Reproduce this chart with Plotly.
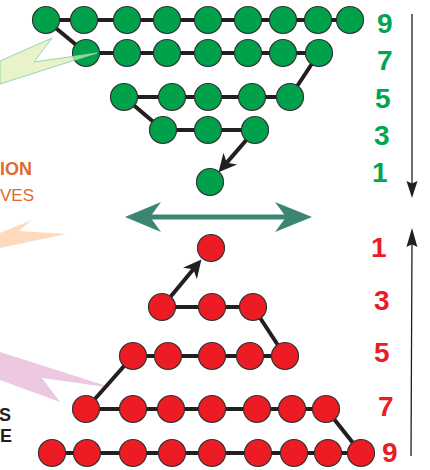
import math
import plotly.graph_objects as go

# ---- data ----
green_rows_x = [
    [46, 84, 127, 167, 208, 248, 283, 318, 350],
    [86, 127, 167, 208, 248, 283, 319],
    [124, 172, 208, 252, 290],
    [163, 208, 255],
    [210],
]
green_rows_y = [20, 53, 97, 130, 182]
red_rows_x = [
    [211],
    [162, 212, 253],
    [133, 168, 212, 250, 285],
    [86, 133, 171, 212, 257, 292, 326],
    [52, 87, 133, 172, 212, 258, 294, 328, 361],
]
red_rows_y = [248, 307, 356, 409, 453]
green_labels = ["9", "7", "5", "3", "1"]
green_label_x = [385, 385, 383, 382, 380]
green_label_y = [23, 60, 98, 135, 172]
red_labels = ["1", "3", "5", "7", "9"]
red_label_x = [379, 382, 382, 386, 390]
red_label_y = [247, 300, 352, 406, 452]

GREEN = "#00a14b"
RED = "#ed1c24"
GREEN_TXT = "#00a651"
TEAL = "#3d8573"
INK = "#231f20"

fig = go.Figure()
shapes = []

def head_path(tip, frm, length, half, notch=0.25):
    dx, dy = tip[0] - frm[0], tip[1] - frm[1]
    d = math.hypot(dx, dy)
    ux, uy = dx / d, dy / d
    px, py = -uy, ux
    bx, by = tip[0] - ux * length, tip[1] - uy * length
    nx, ny = tip[0] - ux * length * (1 - notch), tip[1] - uy * length * (1 - notch)
    pts = [tip, (bx + px * half, by + py * half), (nx, ny), (bx - px * half, by - py * half)]
    return "M " + " L ".join(f"{x:.2f},{y:.2f}" for x, y in pts) + " Z"

# background swooshes
shapes.append(dict(type="path", xref="x", yref="y",
    path="M 0,61 L 52,38 L 34,62 L 97,53 L 0,84 Z",
    fillcolor="rgba(222,238,180,0.7)", line=dict(color="rgba(140,210,170,0.9)", width=1), layer="above"))
shapes.append(dict(type="path", xref="x", yref="y",
    path="M 0,233 L 32,220 L 19,231 L 66,234 L 0,248 Z",
    fillcolor="rgba(252,208,172,0.8)", line=dict(width=0), layer="below"))
shapes.append(dict(type="path", xref="x", yref="y",
    path="M 0,352 L 113,388 L 42,378 L 60,402 L 0,380 Z",
    fillcolor="rgba(225,165,205,0.6)", line=dict(width=0), layer="below"))

# connector lines
lx, ly = [], []
def seg(a, b):
    lx.extend([a[0], b[0], None]); ly.extend([a[1], b[1], None])
for rows_x, rows_y in [(green_rows_x, green_rows_y), (red_rows_x, red_rows_y)]:
    for xs, y in zip(rows_x, rows_y):
        if len(xs) > 1:
            seg((xs[0], y), (xs[-1], y))
# green diagonals
seg((green_rows_x[0][0], green_rows_y[0]), (green_rows_x[1][0], green_rows_y[1]))
seg((green_rows_x[1][-1], green_rows_y[1]), (green_rows_x[2][-1], green_rows_y[2]))
seg((green_rows_x[2][0], green_rows_y[2]), (green_rows_x[3][0], green_rows_y[3]))
# red diagonals
seg((red_rows_x[1][-1], red_rows_y[1]), (red_rows_x[2][-1], red_rows_y[2]))
seg((red_rows_x[2][0], red_rows_y[2]), (red_rows_x[3][0], red_rows_y[3]))
seg((red_rows_x[3][-1], red_rows_y[3]), (red_rows_x[4][-1], red_rows_y[4]))
fig.add_trace(go.Scatter(x=lx, y=ly, mode="lines", line=dict(color=INK, width=4), hoverinfo="skip"))

# black arrows between rows (green 3 -> 1, red 3 -> 1)
def black_arrow(a, b, gap):
    dx, dy = b[0] - a[0], b[1] - a[1]
    d = math.hypot(dx, dy)
    tip = (b[0] - dx / d * gap, b[1] - dy / d * gap)
    base = (tip[0] - dx / d * 12, tip[1] - dy / d * 12)
    fig.add_trace(go.Scatter(x=[a[0], base[0]], y=[a[1], base[1]], mode="lines",
                             line=dict(color=INK, width=4), hoverinfo="skip"))
    shapes.append(dict(type="path", xref="x", yref="y", path=head_path(tip, a, 18, 9, 0.3),
                       fillcolor=INK, line=dict(width=0), layer="above"))

black_arrow((green_rows_x[3][-1], green_rows_y[3]), (green_rows_x[4][0], green_rows_y[4]), 13)
black_arrow((red_rows_x[1][0], red_rows_y[1]), (red_rows_x[0][0], red_rows_y[0]), 15)

# circles
for rows_x, rows_y, col in [(green_rows_x, green_rows_y, GREEN), (red_rows_x, red_rows_y, RED)]:
    xs, ys = [], []
    for r, y in zip(rows_x, rows_y):
        xs += r; ys += [y] * len(r)
    fig.add_trace(go.Scatter(x=xs, y=ys, mode="markers",
                             marker=dict(size=27, color=col, line=dict(color="#333333", width=1.2)),
                             hoverinfo="skip"))

# vertical thin arrows
fig.add_trace(go.Scatter(x=[412, 412], y=[14, 185], mode="lines", line=dict(color=INK, width=1.3), hoverinfo="skip"))
shapes.append(dict(type="path", xref="x", yref="y", path=head_path((412, 198), (412, 14), 17, 5.5, 0.15),
                   fillcolor=INK, line=dict(width=0)))
fig.add_trace(go.Scatter(x=[411, 412], y=[456, 240], mode="lines", line=dict(color=INK, width=1.3), hoverinfo="skip"))
shapes.append(dict(type="path", xref="x", yref="y", path=head_path((412, 228), (411, 456), 19, 5.5, 0.15),
                   fillcolor=INK, line=dict(width=0)))

# teal double arrow
fig.add_trace(go.Scatter(x=[150, 288], y=[217, 217], mode="lines", line=dict(color=TEAL, width=5), hoverinfo="skip"))
shapes.append(dict(type="path", xref="x", yref="y", path=head_path((125, 217), (312, 217), 36, 15, 0.3),
                   fillcolor=TEAL, line=dict(width=0)))
shapes.append(dict(type="path", xref="x", yref="y", path=head_path((312, 217), (125, 217), 37, 15, 0.3),
                   fillcolor=TEAL, line=dict(width=0)))

annotations = []
for t, x, y in zip(green_labels, green_label_x, green_label_y):
    annotations.append(dict(x=x, y=y, text=f"<b>{t}</b>", showarrow=False, xref="x", yref="y",
                            font=dict(family="Liberation Sans", size=28, color=GREEN_TXT)))
for t, x, y in zip(red_labels, red_label_x, red_label_y):
    annotations.append(dict(x=x, y=y, text=f"<b>{t}</b>", showarrow=False, xref="x", yref="y",
                            font=dict(family="Liberation Sans", size=28, color=RED)))
# cropped side texts
annotations.append(dict(x=34, y=169, text="<b>ION</b>", showarrow=False, xanchor="right", xref="x", yref="y",
                        font=dict(family="Liberation Sans", size=18, color="#e06a2c")))
annotations.append(dict(x=36, y=195, text="VES", showarrow=False, xanchor="right", xref="x", yref="y",
                        font=dict(family="Liberation Sans", size=17, color="#e06a2c")))
annotations.append(dict(x=13, y=415, text="<b>S</b>", showarrow=False, xanchor="right", xref="x", yref="y",
                        font=dict(family="Liberation Sans", size=18, color="#231f20")))
annotations.append(dict(x=14, y=436, text="<b>E</b>", showarrow=False, xanchor="right", xref="x", yref="y",
                        font=dict(family="Liberation Sans", size=18, color="#231f20")))

fig.update_layout(
    width=430, height=470, margin=dict(l=0, r=0, t=0, b=0),
    paper_bgcolor="white", plot_bgcolor="white", showlegend=False,
    xaxis=dict(range=[0, 430], visible=False, fixedrange=True),
    yaxis=dict(range=[470, 0], visible=False, fixedrange=True),
    shapes=shapes, annotations=annotations,
)
fig.write_html("out.html", config={"displayModeBar": False},
               post_script="document.body.style.margin='0';document.body.style.overflow='hidden';")
